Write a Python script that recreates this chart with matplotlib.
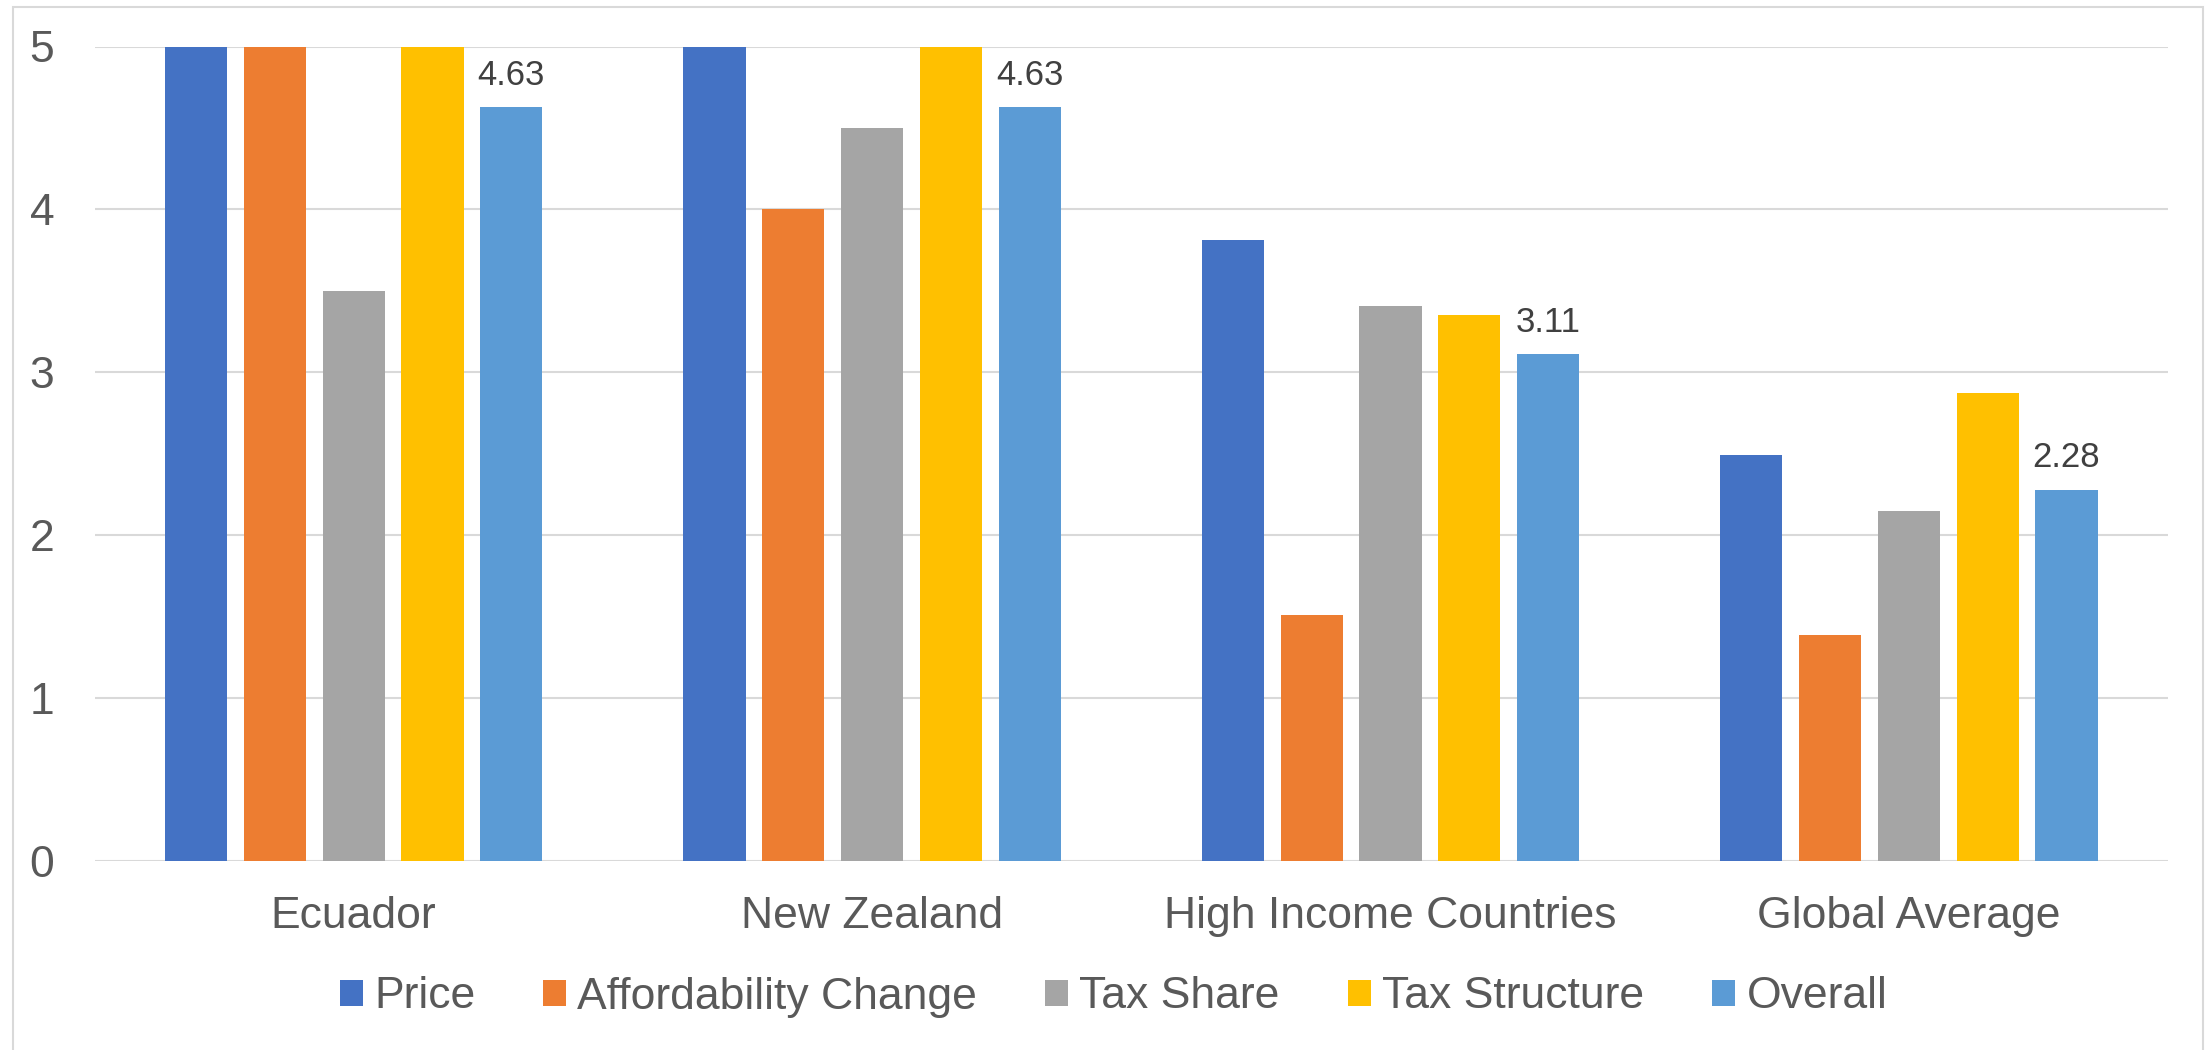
import matplotlib
matplotlib.use("Agg")
import matplotlib.pyplot as plt
import numpy as np
from matplotlib.patches import Rectangle

categories = ["Ecuador", "New Zealand", "High Income Countries", "Global Average"]
series_names = ["Price", "Affordability Change", "Tax Share", "Tax Structure", "Overall"]
price = [5.0, 5.0, 3.81, 2.49]
affordability = [5.0, 4.0, 1.51, 1.39]
tax_share = [3.5, 4.5, 3.41, 2.15]
tax_structure = [5.0, 5.0, 3.35, 2.87]
overall = [4.63, 4.63, 3.11, 2.28]
overall_labels = ["4.63", "4.63", "3.11", "2.28"]
yticks = [0, 1, 2, 3, 4, 5]

colors = ["#4472C4", "#ED7D31", "#A5A5A5", "#FFC000", "#5B9BD5"]
series = [price, affordability, tax_share, tax_structure, overall]

plt.rcParams['font.family'] = ['Liberation Sans', 'DejaVu Sans']

W, H = 2206, 1050
fig = plt.figure(figsize=(W / 100, H / 100), dpi=100)
ax = fig.add_axes([94.5 / W, 1 - 861 / H, (2168 - 94.5) / W, (861 - 46.5) / H])

x = np.arange(len(categories))
slot = 0.152
width = 0.12
handles = []
for j, (vals, c, name) in enumerate(zip(series, colors, series_names)):
    b = ax.bar(x + (j - 2) * slot, vals, width=width, color=c, label=name, zorder=3)
    handles.append(b)

for xi, v, lab in zip(x, overall, overall_labels):
    ax.annotate(lab, (xi + 2 * slot, v), xytext=(0, 16), textcoords="offset points",
                ha="center", va="baseline", fontsize=25, color="#404040", zorder=4)

ax.set_xlim(-0.5, 3.5)
ax.set_ylim(0, 5)
ax.set_yticks(yticks)
ax.set_yticklabels([str(t) for t in yticks])
ax.set_xticks(x)
ax.set_xticklabels(categories)
ax.tick_params(axis="both", length=0, labelsize=32, labelcolor="#595959")
ax.tick_params(axis="y", pad=29)
ax.tick_params(axis="x", pad=25)
ax.grid(axis="y", color="#D9D9D9", linewidth=1.5, zorder=0)
ax.set_axisbelow(True)
for s in ax.spines.values():
    s.set_visible(False)

leg = fig.legend(handles=handles, labels=series_names, loc="center",
                 bbox_to_anchor=(1113.5 / W, 1 - 997 / H), ncol=5, frameon=False,
                 fontsize=32, labelcolor="#595959", handlelength=0.52, handleheight=0.52,
                 handletextpad=0.25, columnspacing=1.53, borderaxespad=0, borderpad=0)

rect = Rectangle((12.6 / W, -0.05), (2203 - 12.6) / W, 1.05 - 7.3 / H,
                 transform=fig.transFigure, fill=False, edgecolor="#D9D9D9",
                 linewidth=1.5, clip_on=False)
fig.patches.append(rect)

fig.savefig("out.png", dpi=100, facecolor="white")
